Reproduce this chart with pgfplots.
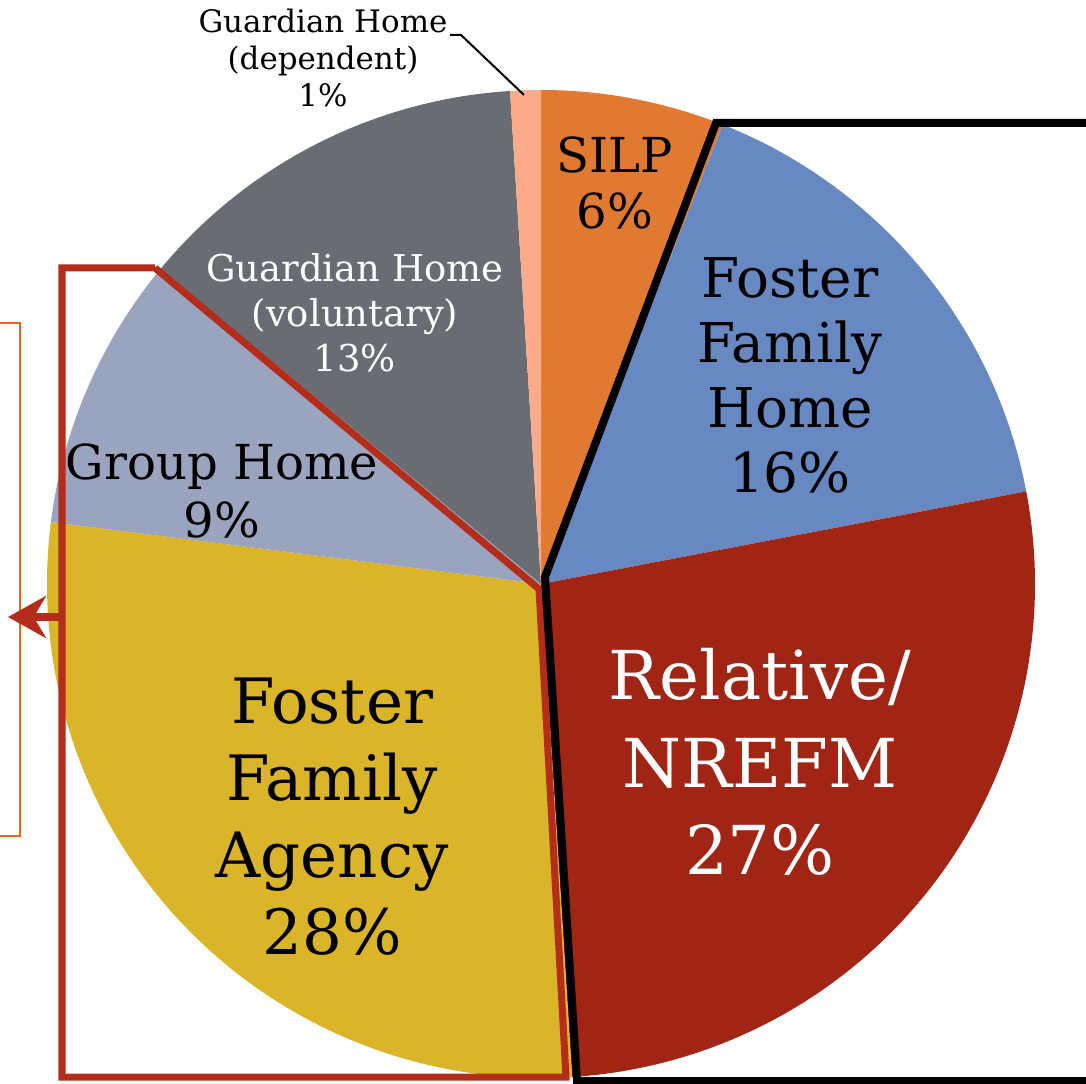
\documentclass[border=0pt]{standalone}
\usepackage{pgfplots}
\pgfplotsset{compat=1.18}
\usetikzlibrary{arrows.meta}
\usepackage{fontspec}
\setmainfont{DejaVu Serif}
\definecolor{silp}{HTML}{E07A32}
\definecolor{ffh}{HTML}{6888C1}
\definecolor{rel}{HTML}{A02515}
\definecolor{ffa}{HTML}{DAB429}
\definecolor{grp}{HTML}{9AA4BE}
\definecolor{ghv}{HTML}{696D73}
\definecolor{ghd}{HTML}{FBAB8A}
\definecolor{redline}{HTML}{B42D1A}
\definecolor{orangebox}{HTML}{E8661E}
\begin{document}
\begin{tikzpicture}
\begin{axis}[
  at={(0,0)}, anchor=south west,
  width=10.86cm, height=10.83cm, scale only axis,
  xmin=0, xmax=1086, ymin=0, ymax=1083,
  hide axis, clip=true,
]
% pie: centre (541,499), radius 494 px = 4.94cm; shares in percent
% SILP 6, Foster Family Home 16, Relative/NREFM 27, Foster Family Agency 28,
% Group Home 9, Guardian Home (voluntary) 13, Guardian Home (dependent) 1
\addplot[fill=silp, draw=none, mark=none] coordinates {(541,499)}
  -- ++({90-3.6*0}:4.94cm) arc[start angle={90-3.6*0}, delta angle={-3.6*6}, radius=4.94cm] -- cycle;
\addplot[fill=ffh, draw=none, mark=none] coordinates {(541,499)}
  -- ++({90-3.6*6}:4.94cm) arc[start angle={90-3.6*6}, delta angle={-3.6*16}, radius=4.94cm] -- cycle;
\addplot[fill=rel, draw=none, mark=none] coordinates {(541,499)}
  -- ++({90-3.6*22}:4.94cm) arc[start angle={90-3.6*22}, delta angle={-3.6*27}, radius=4.94cm] -- cycle;
\addplot[fill=ffa, draw=none, mark=none] coordinates {(541,499)}
  -- ++({90-3.6*49}:4.94cm) arc[start angle={90-3.6*49}, delta angle={-3.6*28}, radius=4.94cm] -- cycle;
\addplot[fill=grp, draw=none, mark=none] coordinates {(541,499)}
  -- ++({90-3.6*77}:4.94cm) arc[start angle={90-3.6*77}, delta angle={-3.6*9}, radius=4.94cm] -- cycle;
\addplot[fill=ghv, draw=none, mark=none] coordinates {(541,499)}
  -- ++({90-3.6*86}:4.94cm) arc[start angle={90-3.6*86}, delta angle={-3.6*13}, radius=4.94cm] -- cycle;
\addplot[fill=ghd, draw=none, mark=none] coordinates {(541,499)}
  -- ++({90-3.6*99}:4.94cm) arc[start angle={90-3.6*99}, delta angle={-3.6*1}, radius=4.94cm] -- cycle;

% overlay shapes
\addplot[draw=orangebox, line width=0.015cm, mark=none] coordinates {(-10,760) (20,760) (20,247) (-10,247)};
\addplot[draw=redline, line width=0.07cm, mark=none, line join=miter] coordinates {(155,815) (62,815) (62,6) (566,6) (539,494) (155,815)};
\addplot[draw=redline, line width=0.075cm, mark=none, -{Stealth[length=0.38cm,width=0.42cm]}] coordinates {(62,466) (8,466)};
\addplot[draw=black, line width=0.08cm, mark=none, line join=miter] coordinates {(1090,960) (716,960) (545,506) (577,2) (1090,2)};
\addplot[draw=black, line width=0.02cm, mark=none] coordinates {(450,1048) (461,1048) (524,988)};

% labels
\node[align=center, text=black, font=\fontsize{13.7}{16.2}\selectfont] at (axis cs:615,900) {SILP\\6\%};
\node[align=center, text=black, font=\fontsize{15.6}{18.5}\selectfont] at (axis cs:790,708) {Foster\\Family\\Home\\16\%};
\node[align=center, text=white, font=\fontsize{19.2}{24.8}\selectfont] at (axis cs:760,321) {Relative/\\NREFM\\27\%};
\node[align=center, text=black, font=\fontsize{17.8}{21.9}\selectfont] at (axis cs:332,266) {Foster\\Family\\Agency\\28\%};
\node[align=center, text=black, font=\fontsize{13.7}{16.5}\selectfont] at (axis cs:222,592) {Group Home\\9\%};
\node[align=center, text=white, font=\fontsize{10.5}{12.8}\selectfont] at (axis cs:355,770) {Guardian Home\\(voluntary)\\13\%};
\node[align=center, text=black, font=\fontsize{8.8}{10.5}\selectfont] at (axis cs:323,1025) {Guardian Home\\(dependent)\\1\%};

\coordinate (sw) at (axis cs:0,0);
\coordinate (ne) at (axis cs:1086,1083);
\end{axis}
\pgfresetboundingbox
\path (sw) rectangle (ne);
\end{tikzpicture}
\end{document}
